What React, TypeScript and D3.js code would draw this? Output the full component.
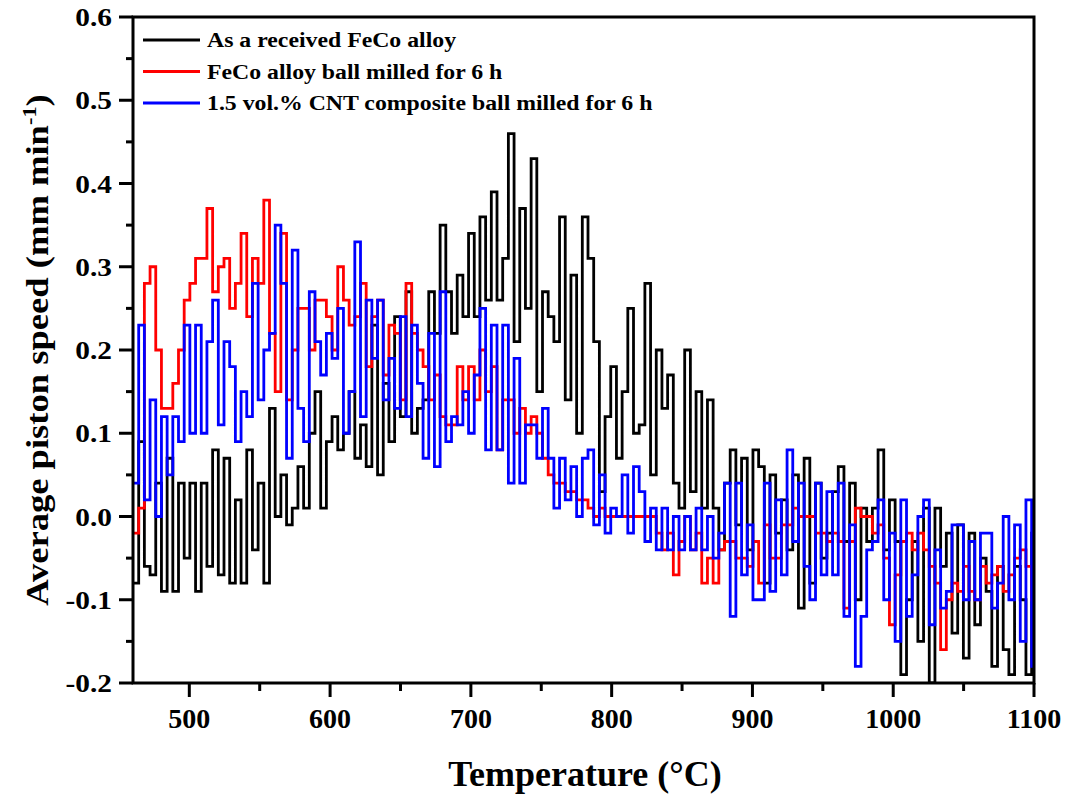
import React from "react";
import * as d3 from "d3";

// canvas + plot box
const W = 1069;
const H = 798;
const left = 133;
const right = 1034;
const top = 17;
const bottom = 683;

// sampling grid of the step curves (°C): one value per bin
const tempStart = 460;
const tempStep = 4.04;

// Average piston speed (mm/min)
const asReceived = [
  -0.08, 0.09, -0.06, -0.07, 0.04, -0.09, 0.07, -0.09, 0.04, -0.05, 0.04, -0.09, 0.04, -0.06, 0.08, -0.07,
  0.07, -0.08, 0.02, -0.08, 0.08, -0.04, 0.04, -0.08, 0.13, 0.0, 0.05, -0.01, 0.01, 0.06, 0.01, 0.1,
  0.15, 0.01, 0.09, 0.12, 0.08, 0.1, 0.15, 0.07, 0.11, 0.06, 0.23, 0.05, 0.16, 0.09, 0.24, 0.12,
  0.27, 0.1, 0.13, 0.14, 0.27, 0.22, 0.35, 0.27, 0.22, 0.29, 0.24, 0.34, 0.24, 0.36, 0.26, 0.39,
  0.26, 0.31, 0.46, 0.21, 0.37, 0.25, 0.43, 0.15, 0.27, 0.24, 0.21, 0.36, 0.14, 0.29, 0.1, 0.36,
  0.31, 0.21, 0.03, 0.12, 0.18, 0.07, 0.15, 0.25, 0.1, 0.11, 0.28, 0.05, 0.2, 0.13, 0.17, 0.04,
  0.01, 0.2, 0.03, 0.15, 0.01, 0.14, 0.01, -0.04, 0.04, 0.08, -0.01, 0.07, -0.04, 0.08, 0.06, -0.08,
  0.05, -0.02, 0.02, -0.04, 0.05, -0.11, 0.07, -0.08, 0.04, -0.05, -0.02, 0.03, 0.06, -0.03, 0.04, -0.1,
  0.01, -0.03, 0.01, 0.08, -0.04, 0.02, -0.03, -0.19, -0.1, -0.03, -0.15, 0.01, -0.2, 0.01, -0.06, -0.02,
  -0.14, -0.01, -0.17, -0.02, -0.13, -0.05, -0.09, -0.18, -0.06, -0.16, -0.19, -0.06, -0.1, -0.19, -0.02,
];

const milled6h = [
  -0.02, 0.01, 0.28, 0.3, 0.2, 0.13, 0.13, 0.16, 0.2, 0.26, 0.28, 0.31, 0.31, 0.37, 0.27, 0.3,
  0.31, 0.25, 0.28, 0.34, 0.24, 0.31, 0.28, 0.38, 0.22, 0.15, 0.34, 0.14, 0.2, 0.25, 0.25, 0.2,
  0.26, 0.26, 0.24, 0.2, 0.3, 0.26, 0.23, 0.24, 0.28, 0.18, 0.24, 0.26, 0.17, 0.23, 0.22, 0.14,
  0.28, 0.22, 0.2, 0.18, 0.14, 0.17, 0.12, 0.11, 0.11, 0.18, 0.14, 0.18, 0.14, 0.2, 0.15, 0.18,
  0.08, 0.14, 0.14, 0.1, 0.13, 0.1, 0.12, 0.1, 0.07, 0.05, 0.04, 0.04, 0.03, 0.03, 0.02, 0.02,
  0.01, 0.0, 0.01, 0.0, 0.0, 0.0, 0.0, 0.0, 0.0, 0.0, 0.0, 0.0, -0.02, -0.04, -0.02, -0.07,
  -0.03, 0.0, -0.04, -0.02, -0.08, -0.05, -0.08, -0.04, -0.03, -0.03, -0.05, -0.05, -0.06, -0.03, -0.08, -0.01,
  -0.05, -0.05, -0.01, -0.01, 0.01, 0.0, 0.0, 0.0, -0.02, -0.02, -0.03, -0.02, -0.03, -0.11, -0.03, 0.01,
  0.0, 0.0, -0.02, -0.01, -0.05, -0.13, -0.07, -0.03, -0.02, -0.04, -0.02, -0.04, -0.06, -0.08, -0.16, -0.1,
  -0.08, -0.09, -0.06, -0.09, -0.1, -0.06, -0.08, -0.07, -0.06, -0.09, -0.07, -0.05, -0.04, -0.06, -0.1,
];

const cntComposite = [
  0.04, 0.23, 0.02, 0.14, 0.0, 0.12, 0.05, 0.12, 0.09, 0.23, 0.1, 0.23, 0.1, 0.21, 0.26, 0.11,
  0.21, 0.18, 0.09, 0.15, 0.12, 0.28, 0.14, 0.2, 0.22, 0.35, 0.28, 0.07, 0.32, 0.13, 0.09, 0.27,
  0.21, 0.17, 0.22, 0.19, 0.25, 0.1, 0.15, 0.33, 0.12, 0.26, 0.19, 0.26, 0.14, 0.19, 0.13, 0.24,
  0.12, 0.23, 0.16, 0.07, 0.22, 0.06, 0.27, 0.09, 0.12, 0.11, 0.15, 0.1, 0.17, 0.25, 0.08, 0.23,
  0.08, 0.23, 0.04, 0.19, 0.04, 0.11, 0.11, 0.07, 0.13, 0.07, 0.01, 0.07, 0.02, 0.06, 0.0, 0.07,
  0.08, -0.01, 0.05, -0.02, 0.01, 0.0, 0.05, -0.02, 0.06, 0.03, -0.03, 0.01, -0.04, 0.01, -0.04, 0.0,
  -0.04, 0.0, -0.04, 0.01, -0.04, 0.0, -0.05, -0.02, 0.04, -0.12, 0.04, -0.07, -0.01, -0.1, -0.1, 0.04,
  -0.09, 0.02, -0.07, 0.08, -0.03, 0.04, -0.06, -0.1, 0.04, -0.07, 0.03, -0.07, 0.04, -0.12, -0.01, -0.18,
  -0.12, -0.04, -0.03, 0.02, -0.1, -0.02, -0.15, 0.02, -0.12, -0.07, 0.0, 0.02, -0.13, -0.04, -0.11, -0.09,
  -0.01, -0.01, -0.1, -0.03, -0.1, -0.02, -0.02, -0.11, -0.08, 0.0, -0.1, -0.01, -0.15, 0.02, -0.18,
];

const seriesNames = [
  "As a received FeCo alloy",
  "FeCo alloy ball milled for 6 h",
  "1.5 vol.% CNT composite ball milled for 6 h",
];
const seriesColors = ["#000000", "#ff0000", "#0000ff"];

const xTickValues = [500, 600, 700, 800, 900, 1000, 1100];
const yTickValues = [-0.2, -0.1, 0.0, 0.1, 0.2, 0.3, 0.4, 0.5, 0.6];

const font = "'Liberation Serif', 'Times New Roman', serif";

function App() {
  const x = d3.scaleLinear().domain([460, 1100]).range([left, right]);
  const y = d3.scaleLinear().domain([-0.2, 0.6]).range([bottom, top]);

  const allSeries = [asReceived, milled6h, cntComposite];

  // each value holds over its bin, so the last bin gets a closing edge
  const stepLine = d3
    .line<[number, number]>()
    .x((d) => x(d[0]))
    .y((d) => y(d[1]))
    .curve(d3.curveStepAfter);
  const toPoints = (s: number[]): [number, number][] => {
    const pts = s.map((v, i) => [tempStart + i * tempStep, v] as [number, number]);
    pts.push([tempStart + s.length * tempStep, s[s.length - 1]]);
    return pts;
  };

  const xMinor = x.ticks(13).filter((t) => t % 100 !== 0);
  const yMinor = y
    .ticks(16)
    .filter((t) => Math.abs(Math.round(t * 10) - t * 10) > 0.01);

  return (
    <svg
      width={W}
      height={H}
      style={{ position: "absolute", left: 0, top: 0, background: "#fff" }}
      fontFamily={font}
      fontWeight="bold"
    >
      <defs>
        <clipPath id="plot-clip">
          <rect x={left} y={top} width={right - left} height={bottom - top} />
        </clipPath>
      </defs>

      {/* data */}
      <g clipPath="url(#plot-clip)">
        {allSeries.map((s, k) => (
          <path
            key={k}
            d={stepLine(toPoints(s)) || ""}
            fill="none"
            stroke={seriesColors[k]}
            strokeWidth={2.8}
          />
        ))}
      </g>

      {/* frame */}
      <rect
        x={left}
        y={top}
        width={right - left}
        height={bottom - top}
        fill="none"
        stroke="#000"
        strokeWidth={3}
      />

      {/* x axis */}
      {xTickValues.map((t) => (
        <g key={"xt" + t}>
          <line x1={x(t)} x2={x(t)} y1={bottom} y2={bottom + 14} stroke="#000" strokeWidth={3} />
          <text x={x(t)} y={728} textAnchor="middle" fontSize={28}>
            {t}
          </text>
        </g>
      ))}
      {xMinor.map((t) => (
        <line key={"xm" + t} x1={x(t)} x2={x(t)} y1={bottom} y2={bottom + 8} stroke="#000" strokeWidth={3} />
      ))}

      {/* y axis */}
      {yTickValues.map((t) => (
        <g key={"yt" + t}>
          <line x1={left - 14} x2={left} y1={y(t)} y2={y(t)} stroke="#000" strokeWidth={3} />
          <text
            transform={`translate(${left - 21}, ${y(t) + 9}) scale(1.13, 1)`}
            textAnchor="end"
            fontSize={26}
          >
            {t.toFixed(1)}
          </text>
        </g>
      ))}
      {yMinor.map((t) => (
        <line key={"ym" + t} x1={left - 7} x2={left} y1={y(t)} y2={y(t)} stroke="#000" strokeWidth={3} />
      ))}

      {/* axis titles */}
      <text x={585} y={786} textAnchor="middle" fontSize={36}>
        Temperature (°C)
      </text>
      <text transform={`translate(48, 350) rotate(-90) scale(1.18, 1)`} textAnchor="middle" fontSize={31}>
        <tspan>Average piston speed (mm min</tspan>
        <tspan dy={-12} fontSize={19}>-1</tspan>
        <tspan dy={12}>)</tspan>
      </text>

      {/* legend */}
      {seriesNames.map((name, k) => (
        <g key={"lg" + k} transform={`translate(143, ${40 + k * 31.5})`}>
          <line x1={0} x2={57} y1={0} y2={0} stroke={seriesColors[k]} strokeWidth={3} />
          <text transform="translate(64, 7) scale(1.16, 1)" fontSize={20.5}>
            {name}
          </text>
        </g>
      ))}
    </svg>
  );
}

export default App;
